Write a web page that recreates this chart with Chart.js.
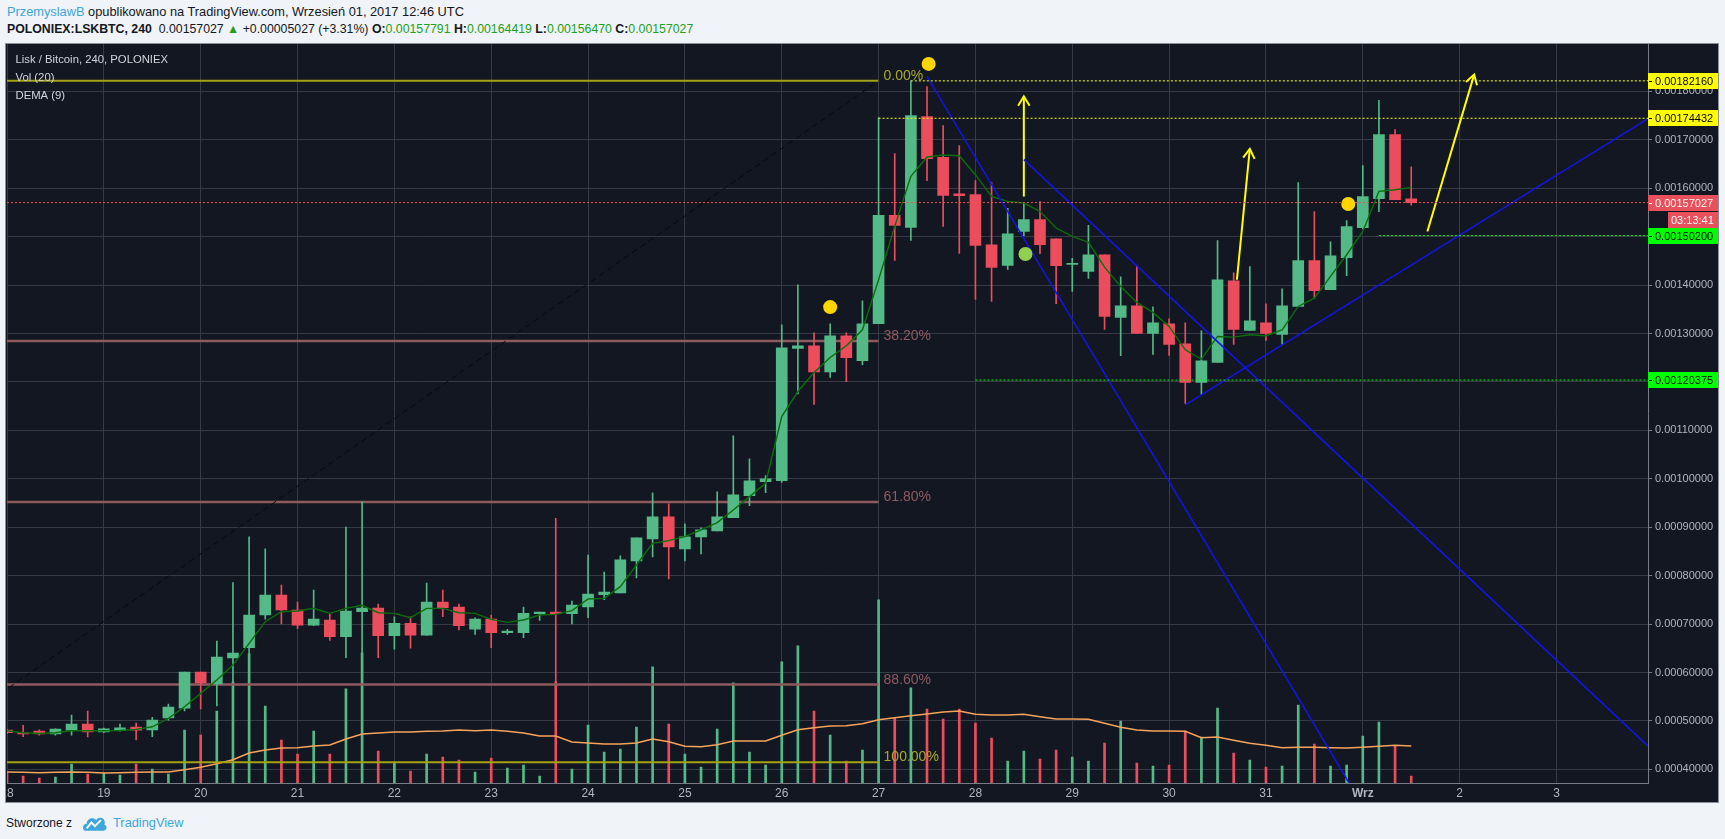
<!DOCTYPE html>
<html>
<head>
<meta charset="utf-8">
<script src="https://cdn.jsdelivr.net/npm/chart.js@4.4.0/dist/chart.umd.min.js"></script>
<style>
  body { margin: 0; width: 1725px; height: 839px; overflow: hidden; background: #f0f3f7;
         font-family: "Liberation Sans", Arial, sans-serif; color: #131722; }
  #hdr1 { position: absolute; left: 7px; top: 4px; font-size: 12.8px; white-space: nowrap; }
  #hdr2 { position: absolute; left: 7px; top: 22px; font-size: 12.3px; white-space: nowrap; }
  #hdr1 .user { color: #3ea6dd; }
  #hdr2 b { font-weight: bold; }
  #hdr2 .g { color: #22a022; }
  #panel { position: absolute; left: 5px; top: 43px; width: 1712px; height: 758px;
           border: 1px solid #8a8f98; background: #131722; overflow: hidden; }
  #c { position: absolute; left: -6px; top: 0; }
  #footer { position: absolute; left: 6px; top: 813px; font-size: 12px; white-space: nowrap; }
  #footer svg { vertical-align: -5px; margin: 0 5px 0 10px; }
  #footer .tv { color: #3ea6dd; font-size: 12.8px; }
</style>
</head>
<body>
<div id="hdr1"><span class="user">PrzemyslawB</span> opublikowano na TradingView.com, Wrzesień 01, 2017 12:46 UTC</div>
<div id="hdr2"><b>POLONIEX:LSKBTC, 240</b>&nbsp; 0.00157027 <span class="g">▲</span> +0.00005027 (+3.31%) <b>O:</b><span class="g">0.00157791</span> <b>H:</b><span class="g">0.00164419</span> <b>L:</b><span class="g">0.00156470</span> <b>C:</b><span class="g">0.00157027</span></div>
<div id="panel"><canvas id="c" width="1718" height="758"></canvas></div>
<div id="footer">Stworzone z<svg width="26" height="19" viewBox="0 0 22 16"><path d="M3 15 C0 15 0 9 4 9 C4 4 10 3 12 6 C14 2 21 4 19 10 C22 11 21 15 18 15 Z" fill="#3ea6dd"/><path d="M4 13 L8 8 L11 11 L16 6" stroke="#fff" stroke-width="1.6" fill="none"/></svg><span class="tv">TradingView</span></div>

<script>
// 4h candles, Aug 18 00:00 -> Sep 1 12:00 (index 0..87)
const open = [
  0.0004812, 0.0004757, 0.0004791, 0.0004733, 0.0004812, 0.0004936, 0.0004774, 0.0004798, 0.0004874, 0.0004814,
  0.0005063, 0.0005266, 0.0006010, 0.0005766, 0.0006303, 0.0006513, 0.0007188, 0.0007601, 0.0007291, 0.0006981,
  0.0007084, 0.0006740, 0.0007256, 0.0007332, 0.0006761, 0.0007016, 0.0006774, 0.0007456, 0.0007353, 0.0006898,
  0.0007105, 0.0006822, 0.0006822, 0.0007215, 0.0007249, 0.0007215, 0.0007357, 0.0007609, 0.0007643, 0.0008304,
  0.0008759, 0.0009213, 0.0008552, 0.0008800, 0.0008924, 0.0009200, 0.0009654, 0.0009943, 0.0009961, 0.0012691,
  0.0012747, 0.0012209, 0.0012953, 0.0012437, 0.0013201, 0.0015439, 0.0015191, 0.0017477, 0.0016637, 0.0015886,
  0.0015866, 0.0014833, 0.0014406, 0.0015109, 0.0015350, 0.0014957, 0.0014426, 0.0014282, 0.0014626, 0.0013332,
  0.0013573, 0.0013001, 0.0013201, 0.0012788, 0.0011989, 0.0012402, 0.0014089, 0.0013063, 0.0013222, 0.0012981,
  0.0013559, 0.0014503, 0.0013904, 0.0014565, 0.0015185, 0.0015784, 0.0017106, 0.00157791
];
const high = [
  0.0004830, 0.0004910, 0.0004819, 0.0004840, 0.0005122, 0.0005205, 0.0004853, 0.0004936, 0.0004957, 0.0005074,
  0.0005349, 0.0006010, 0.0006010, 0.0006651, 0.0007857, 0.0008800, 0.0008552, 0.0007807, 0.0007456, 0.0007704,
  0.0007201, 0.0009006, 0.0009530, 0.0007415, 0.0007153, 0.0007153, 0.0007849, 0.0007704, 0.0007415, 0.0007132,
  0.0007188, 0.0006891, 0.0007353, 0.0007249, 0.0009186, 0.0007477, 0.0008428, 0.0008077, 0.0008408, 0.0008780,
  0.0009709, 0.0009482, 0.0009069, 0.0008986, 0.0009730, 0.0010886, 0.0010412, 0.0010068, 0.0013180, 0.0014007,
  0.0013015, 0.0013201, 0.0013015, 0.0013676, 0.0017456, 0.0016713, 0.0018216, 0.0018100, 0.0017291, 0.0016878,
  0.0016155, 0.0016114, 0.0015584, 0.0015701, 0.0015721, 0.0014957, 0.0014551, 0.0015233, 0.0014626, 0.0014172,
  0.0014399, 0.0013552, 0.0013304, 0.0013222, 0.0013056, 0.0014916, 0.0014255, 0.0014379, 0.0013614, 0.0013924,
  0.0016114, 0.0015515, 0.0014895, 0.0015329, 0.0016465, 0.0017812, 0.0017209, 0.00164419
];
const low = [
  0.0004740, 0.0004674, 0.0004710, 0.0004710, 0.0004709, 0.0004670, 0.0004760, 0.0004791, 0.0004609, 0.0004674,
  0.0005018, 0.0005208, 0.0005250, 0.0005311, 0.0005810, 0.0006389, 0.0007100, 0.0007002, 0.0006905, 0.0006967,
  0.0006664, 0.0006307, 0.0006224, 0.0006307, 0.0006485, 0.0006506, 0.0006767, 0.0007153, 0.0006878, 0.0006788,
  0.0006513, 0.0006788, 0.0006719, 0.0007077, 0.0005804, 0.0007002, 0.0007133, 0.0007506, 0.0007643, 0.0007953,
  0.0008387, 0.0007932, 0.0008304, 0.0008449, 0.0008924, 0.0009200, 0.0009444, 0.0009713, 0.0009923, 0.0011755,
  0.0011534, 0.0012092, 0.0012003, 0.0012354, 0.0013201, 0.0014510, 0.0014923, 0.0016155, 0.0015212, 0.0014654,
  0.0013704, 0.0013662, 0.0014323, 0.0015019, 0.0014647, 0.0013614, 0.0013869, 0.0014137, 0.0013085, 0.0012543,
  0.0013001, 0.0012567, 0.0012546, 0.0011555, 0.0011741, 0.0012402, 0.0012774, 0.0013063, 0.0012857, 0.0012774,
  0.0013559, 0.0013717, 0.0013904, 0.0014192, 0.0015164, 0.0015515, 0.0015763, 0.00156470
];
const close = [
  0.0004757, 0.0004733, 0.0004733, 0.0004833, 0.0004936, 0.0004774, 0.0004840, 0.0004860, 0.0004812, 0.0005018,
  0.0005288, 0.0006010, 0.0005787, 0.0006321, 0.0006402, 0.0007188, 0.0007601, 0.0007291, 0.0006981, 0.0007105,
  0.0006740, 0.0007270, 0.0007332, 0.0006761, 0.0007016, 0.0006774, 0.0007456, 0.0007339, 0.0006967, 0.0007105,
  0.0006822, 0.0006857, 0.0007222, 0.0007249, 0.0007215, 0.0007394, 0.0007622, 0.0007664, 0.0008325, 0.0008780,
  0.0009213, 0.0008594, 0.0008800, 0.0008945, 0.0009213, 0.0009668, 0.0009957, 0.0009999, 0.0012705, 0.0012747,
  0.0012209, 0.0012953, 0.0012499, 0.0013201, 0.0015439, 0.0015233, 0.0017498, 0.0016609, 0.0015852, 0.0015845,
  0.0014819, 0.0014364, 0.0015060, 0.0015350, 0.0014833, 0.0014399, 0.0014447, 0.0014626, 0.0013352, 0.0013573,
  0.0013001, 0.0013222, 0.0012774, 0.0011989, 0.0012437, 0.0014110, 0.0013084, 0.0013263, 0.0013001, 0.0013573,
  0.0014503, 0.0013883, 0.0014606, 0.0015205, 0.0015825, 0.0017106, 0.0015763, 0.00157027
];
// DEMA (9)
const dema = [
  0.0004798, 0.0004757, 0.0004743, 0.0004757, 0.0004798, 0.0004798, 0.0004798, 0.0004805, 0.0004826, 0.0004881,
  0.0005053, 0.0005294, 0.0005570, 0.0005845, 0.0006155, 0.0006603, 0.0007050, 0.0007257, 0.0007271, 0.0007326,
  0.0007222, 0.0007326, 0.0007388, 0.0007236, 0.0007222, 0.0007133, 0.0007326, 0.0007326, 0.0007236, 0.0007222,
  0.0007098, 0.0007036, 0.0007085, 0.0007188, 0.0007202, 0.0007278, 0.0007519, 0.0007532, 0.0007773, 0.0008221,
  0.0008669, 0.0008724, 0.0008806, 0.0008944, 0.0009096, 0.0009357, 0.0009633, 0.0009908, 0.0011286, 0.0011802,
  0.0012195, 0.0012505, 0.0012746, 0.0013076, 0.0014109, 0.0015211, 0.0016244, 0.0016644, 0.0016685, 0.0016671,
  0.0016279, 0.0015831, 0.0015728, 0.0015693, 0.0015521, 0.0015177, 0.0015005, 0.0014881, 0.0014370, 0.0013972,
  0.0013641, 0.0013435, 0.0013145, 0.0012663, 0.0012470, 0.0012939, 0.0012925, 0.0012973, 0.0012953, 0.0013076,
  0.0013559, 0.0013731, 0.0014178, 0.0014626, 0.0015108, 0.0015935, 0.0015969, 0.0016017
];
// volume and its 20-period average (relative units)
const volume = [
  10, 7, 5, 6, 19, 9, 10, 8, 19, 14,
  9, 53, 48, 72, 101, 129, 77, 43, 29, 52,
  29, 94, 130, 32, 21, 12, 29, 26, 23, 11,
  25, 15, 18, 7, 101, 14, 58, 31, 34, 56,
  116, 59, 29, 16, 54, 100, 31, 18, 121, 137,
  72, 48, 22, 33, 183, 65, 95, 74, 64, 74,
  60, 45, 22, 32, 24, 33, 26, 22, 40, 62,
  20, 17, 18, 52, 46, 75, 30, 23, 16, 17,
  78, 39, 17, 18, 47, 61, 37, 7
];
const volumeMA = [
  11, 10.7, 10.3, 10.7, 11, 10.7, 10, 10.3, 10.7, 11,
  11, 13.3, 15.7, 19.3, 23.3, 30, 33, 35, 35.3, 37,
  38, 44, 49, 50, 51, 51, 51.7, 52, 53, 52.3,
  53, 51.7, 50, 47, 47, 41, 40, 39, 39, 40,
  44, 41.3, 36.7, 36.3, 38.2, 42, 42, 42, 47.7, 53.3,
  55.3, 57, 57.3, 59.3, 63.3, 65.3, 67.3, 69, 71, 72,
  68.7, 68, 68, 68.7, 66.3, 64, 64, 63.7, 59.7, 55.7,
  53, 52, 52, 51.7, 45.3, 46, 42.7, 39.7, 37.7, 35.3,
  35.7, 35.7, 35.3, 35, 35.7, 36.7, 37.7, 37
];

// axes
const dayTicks = [0, 6, 12, 18, 24, 30, 36, 42, 48, 54, 60, 66, 72, 78, 84, 90, 96];
const dayLabels = ['18', '19', '20', '21', '22', '23', '24', '25', '26', '27', '28', '29', '30', '31', 'Wrz', '2', '3'];
const priceTicks = [0.0004, 0.0005, 0.0006, 0.0007, 0.0008, 0.0009, 0.0010, 0.0011, 0.0012, 0.0013,
                    0.0014, 0.0015, 0.0016, 0.0017, 0.0018];
const xMin = 0, xMax = 101.67;
const yMin = 0.000372, yMax = 0.0018985;

// drawings (x = candle index, y = price)
const fibHigh = 0.0018216, fibLow = 0.000415;
const fibRatios = [0, 0.382, 0.618, 0.886, 1];
const fibLabels = ['0.00%', '38.20%', '61.80%', '88.60%', '100.00%'];
const fibFrom = -6.5, fibTo = 54;
const levelValues = [0.0018216, 0.00174432, 0.00157027, 0.001502, 0.00120375];
const levelFrom = [56, 54, 0, 85, 60];
const levelLabels = ['0.00182160', '0.00174432', '0.00157027', '0.00150200', '0.00120375'];
const countdown = '03:13:41';
const blueLines = [
  [[57.0, 0.001831], [83.15, 0.000372]],
  [[63.0, 0.0016589], [101.67, 0.0004481]],
  [[73.0, 0.0011527], [101.67, 0.0017436]]
];
const yellowArrows = [
  [[63.0, 0.001583], [63.0, 0.0017897]],
  [[76.2, 0.001411], [77.0, 0.001681]],
  [[88.0, 0.0015107], [90.9, 0.0018345]]
];
const yellowDots = [[51.0, 0.0013545], [57.1, 0.0018566], [83.1, 0.0015674]];
const greenDots = [[63.1, 0.001464]];

const UP = '#53b987', DOWN = '#eb4d5c';
const FONT = '"Liberation Sans", Arial, sans-serif';
Chart.defaults.font.family = FONT;

const idx = open.map((_, i) => i);
const candleColors = idx.map(i => close[i] >= open[i] ? UP : DOWN);
const pts = arr => arr.map(p => ({ x: p[0], y: p[1] }));

function lineSet(data, color, width, order, extra) {
  return Object.assign({
    type: 'line', data: data, borderColor: color, borderWidth: width,
    pointRadius: 0, tension: 0, fill: false, order: order
  }, extra || {});
}

const datasets = [];

// volume at the bottom
datasets.push({
  type: 'bar', yAxisID: 'yv', data: idx.map(i => ({ x: i, y: volume[i] })),
  backgroundColor: candleColors, barThickness: 2, grouped: false, order: 10
});
datasets.push(lineSet(idx.map(i => ({ x: i, y: volumeMA[i] })), '#f7a35c', 1.5, 9, { yAxisID: 'yv' }));

// fibonacci retracement
datasets.push(lineSet([{ x: fibFrom, y: fibLow }, { x: fibTo, y: fibHigh }], '#07090d', 1, 8, { borderDash: [6, 4] }));
fibRatios.forEach(r => {
  const v = fibHigh - r * (fibHigh - fibLow);
  const edge = (r === 0 || r === 1);
  datasets.push(lineSet([{ x: fibFrom, y: v }, { x: fibTo, y: v }], edge ? '#a3a314' : '#8e5a5e', edge ? 2 : 2.5, 8));
});

// candles: wicks then bodies
datasets.push({
  type: 'bar', data: idx.map(i => ({ x: i, y: [low[i], high[i]] })),
  backgroundColor: candleColors, barThickness: 1, grouped: false, order: 6
});
datasets.push({
  type: 'bar', data: idx.map(i => ({ x: i, y: [open[i], close[i]] })),
  backgroundColor: candleColors, barThickness: 11, minBarLength: 1, grouped: false, order: 5
});

// DEMA (9)
datasets.push(lineSet(idx.map(i => ({ x: i, y: dema[i] })), '#0b6e0b', 1.4, 4));

// horizontal level lines
const levelColors = ['#ffff00', '#ffff00', '#ef5350', '#00ff00', '#00ff00'];
levelValues.forEach((v, k) => {
  datasets.push(lineSet([{ x: levelFrom[k], y: v }, { x: xMax, y: v }], levelColors[k], 1, 2, { borderDash: [2, 2] }));
});

// trend lines and arrows
blueLines.forEach(l => datasets.push(lineSet(pts(l), '#1414e6', 1.5, 2)));
yellowArrows.forEach(l => datasets.push(lineSet(pts(l), '#ffff00', 2, 2, { arrowHead: true })));

// markers
datasets.push(lineSet(pts(yellowDots), '#ffd500', 0, 1, { showLine: false, pointRadius: 7, pointBackgroundColor: '#ffd500', pointBorderWidth: 0 }));
datasets.push(lineSet(pts(greenDots), '#8fd14f', 0, 1, { showLine: false, pointRadius: 7, pointBackgroundColor: '#8fd14f', pointBorderWidth: 0 }));

// arrow heads at the end of the yellow arrows
const arrowPlugin = {
  id: 'arrowHeads',
  afterDatasetsDraw(chart) {
    const ctx = chart.ctx;
    chart.data.datasets.forEach((ds, k) => {
      if (!ds.arrowHead) return;
      const p = chart.getDatasetMeta(k).data;
      const a = p[p.length - 2], b = p[p.length - 1];
      const ang = Math.atan2(b.y - a.y, b.x - a.x);
      ctx.save();
      ctx.strokeStyle = ds.borderColor;
      ctx.lineWidth = ds.borderWidth;
      ctx.beginPath();
      ctx.moveTo(b.x - 11 * Math.cos(ang - 0.55), b.y - 11 * Math.sin(ang - 0.55));
      ctx.lineTo(b.x, b.y);
      ctx.lineTo(b.x - 11 * Math.cos(ang + 0.55), b.y - 11 * Math.sin(ang + 0.55));
      ctx.stroke();
      ctx.restore();
    });
  }
};

// titles, fib labels and price tags
const overlayPlugin = {
  id: 'overlay',
  afterDraw(chart) {
    const { ctx, chartArea } = chart;
    const x = chart.scales.x, y = chart.scales.y;
    ctx.save();

    ctx.font = '11.3px ' + FONT;
    ctx.fillStyle = '#d1d4dc';
    ctx.textBaseline = 'middle';
    ctx.textAlign = 'left';
    ['Lisk / Bitcoin, 240, POLONIEX', 'Vol (20)', 'DEMA (9)'].forEach((t, k) => {
      ctx.fillText(t, 15.5, chartArea.top + 16.5 + k * 18);
    });

    ctx.font = '14px ' + FONT;
    ctx.textBaseline = 'alphabetic';
    fibRatios.forEach((r, k) => {
      const v = fibHigh - r * (fibHigh - fibLow);
      ctx.fillStyle = (r === 0 || r === 1) ? '#a8a830' : '#8f5a60';
      ctx.fillText(fibLabels[k], x.getPixelForValue(fibTo) + 5, y.getPixelForValue(v) - 1);
    });

    ctx.font = '11px ' + FONT;
    ctx.textBaseline = 'middle';
    const tagText = ['#000', '#000', '#fff', '#000', '#000'];
    levelValues.forEach((v, k) => {
      const py = Math.round(y.getPixelForValue(v));
      ctx.fillStyle = levelColors[k] === '#ef5350' ? '#e8505b' : levelColors[k];
      ctx.fillRect(chartArea.right, py - 8, 70, 16);
      ctx.fillStyle = tagText[k];
      ctx.fillRect(chartArea.right + 1, py, 3, 1);
      ctx.fillText(levelLabels[k], chartArea.right + 7, py + 0.5);
      if (k === 2) {
        ctx.fillStyle = '#e8505b';
        ctx.fillRect(chartArea.right + 20, py + 9, 50, 16);
        ctx.fillStyle = '#fff';
        ctx.fillText(countdown, chartArea.right + 23, py + 17.5);
      }
    });
    ctx.restore();
  }
};

const config = {
  type: 'bar',
  data: { datasets: datasets },
  options: {
    responsive: false,
    animation: false,
    devicePixelRatio: 1,
    events: [],
    layout: { padding: { left: 7, top: 0, right: 0, bottom: 0 } },
    plugins: { legend: { display: false }, tooltip: { enabled: false } },
    scales: {
      x: {
        type: 'linear', min: xMin, max: xMax, offset: false,
        grid: { color: '#363a45', offset: false, drawTicks: false },
        border: { color: '#787b86' },
        afterBuildTicks: s => { s.ticks = dayTicks.map(v => ({ value: v })); },
        afterFit: s => { s.height = 19; s.paddingLeft = 0; s.paddingRight = 0; },
        ticks: {
          color: '#b2b5be', padding: 3, maxRotation: 0, autoSkip: false,
          font: c => ({ size: 12, family: FONT, weight: (c.tick && c.tick.label === 'Wrz') ? 'bold' : 'normal' }),
          callback: v => dayLabels[dayTicks.indexOf(v)]
        }
      },
      y: {
        position: 'right', min: yMin, max: yMax, beginAtZero: false,
        grid: { color: '#363a45', tickColor: '#787b86', tickLength: 4 },
        border: { color: '#787b86' },
        afterBuildTicks: s => { s.ticks = priceTicks.map(v => ({ value: v })); },
        afterFit: s => { s.width = 70; },
        ticks: { color: '#b2b5be', padding: 3, font: { size: 11 }, callback: v => v.toFixed(8) }
      },
      yv: { display: false, min: 0, max: 739 }
    }
  },
  plugins: [arrowPlugin, overlayPlugin]
};

// the price scale keeps room above its top label; build once to measure it,
// then rebuild on a taller canvas shifted up so the plot starts at the panel top
const canvas = document.getElementById('c');
let chart = new Chart(canvas, config);
const topGap = Math.ceil(chart.chartArea.top);
if (topGap > 0) {
  chart.destroy();
  canvas.width = 1718;
  canvas.height = 758 + topGap;
  canvas.style.top = (-topGap) + 'px';
  chart = new Chart(canvas, config);
}
</script>
</body>
</html>
